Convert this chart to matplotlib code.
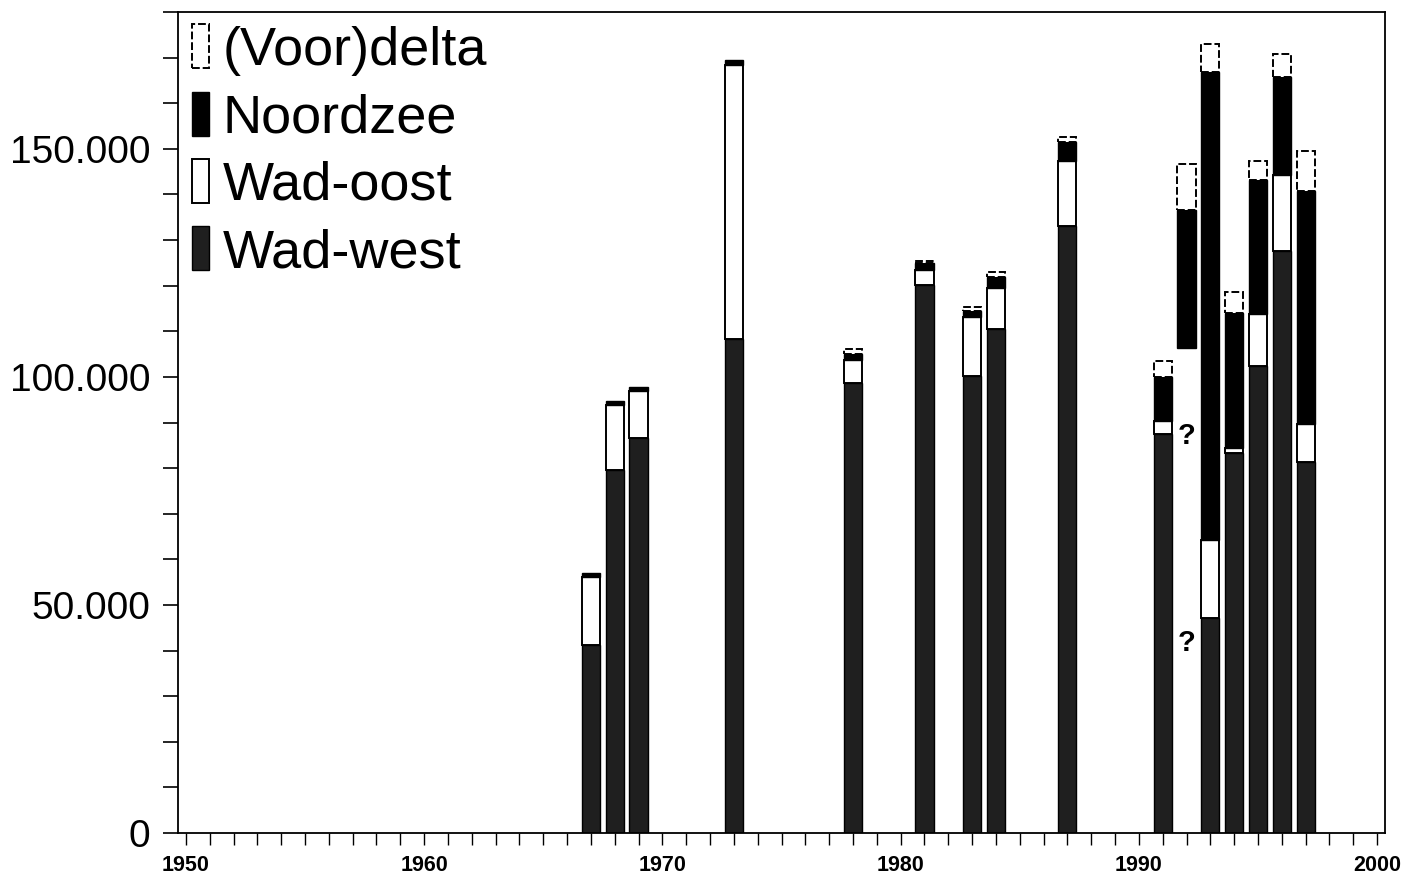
import numpy as np
import matplotlib
matplotlib.use("Agg")
import matplotlib.pyplot as plt
from matplotlib.ticker import MultipleLocator, FuncFormatter
from matplotlib.patches import Patch

plt.rcParams['font.family'] = ['Liberation Sans', 'DejaVu Sans']

# ---- data ----
years = [1967, 1968, 1969, 1973, 1978, 1981, 1983, 1984, 1987,
         1991, 1992, 1993, 1994, 1995, 1996, 1997]
# unknown (not measured) base, only for 1992
onbekend = [0, 0, 0, 0, 0, 0, 0, 0, 0, 0, 106300, 0, 0, 0, 0, 0]
wad_west = [41300, 79500, 86700, 108300, 98600, 120100, 100100, 110500, 133100,
            87400, np.nan, 47200, 83400, 102300, 127600, 81300]
wad_oost = [14900, 14300, 10100, 60000, 5050, 3300, 13000, 9000, 14300,
            2900, np.nan, 17100, 1100, 11400, 16700, 8300]
noordzee = [900, 900, 900, 1100, 1300, 1500, 1300, 2400, 4200,
            9700, 30300, 102600, 29600, 29400, 21500, 51200]
voordelta = [0, 0, 0, 0, 1100, 500, 900, 1100, 900,
             3500, 10100, 6100, 4600, 4200, 5100, 8800]
question_marks = [(1992, 87000), (1992, 41700)]

series_labels = ['Wad-west', 'Wad-oost', 'Noordzee', '(Voor)delta']
y_major_ticks = [0, 50000, 100000, 150000]

# ---- figure ----
fig = plt.figure(figsize=(14.14, 8.85), dpi=100)
ax = fig.add_axes([178 / 1414, 1 - 833 / 885, (1385 - 178) / 1414, (833 - 12) / 885])

x = np.array(years, dtype=float)
w = 0.76
bottom = np.array(onbekend, dtype=float)

styles = {
    'Wad-west': dict(facecolor='#1f1f1f', edgecolor='black', linewidth=1.0),
    'Wad-oost': dict(facecolor='white', edgecolor='black', linewidth=1.4),
    'Noordzee': dict(facecolor='black', edgecolor='black', linewidth=1.0),
    '(Voor)delta': dict(facecolor='white', edgecolor='black', linewidth=1.4,
                        linestyle=(0, (4, 1.5))),
}
data = {'Wad-west': wad_west, 'Wad-oost': wad_oost,
        'Noordzee': noordzee, '(Voor)delta': voordelta}

for name in series_labels:
    vals = np.array(data[name], dtype=float)
    mask = ~np.isnan(vals) & (vals > 0)
    ax.bar(x[mask], vals[mask], width=w, bottom=bottom[mask], **styles[name])
    bottom = bottom + np.nan_to_num(vals)

for (qx, qy) in question_marks:
    ax.text(qx, qy, '?', ha='center', va='center', fontsize=21, fontweight='bold')

ax.set_xlim(1949.67, 2000.33)
ax.set_ylim(0, 180000)

ax.xaxis.set_major_locator(MultipleLocator(10))
ax.xaxis.set_minor_locator(MultipleLocator(1))
ax.yaxis.set_major_locator(plt.FixedLocator(y_major_ticks))
ax.yaxis.set_minor_locator(MultipleLocator(10000))
ax.yaxis.set_major_formatter(FuncFormatter(lambda v, p: f"{int(v):,}".replace(',', '.')))

ax.tick_params(axis='y', which='both', direction='out', length=11, width=1.2,
               labelsize=28, pad=9)
ax.tick_params(axis='x', which='both', direction='out', length=8.5, width=1.0,
               pad=7)
for lab in ax.get_xticklabels():
    lab.set_fontsize(15.5)
    lab.set_fontweight('bold')

for s in ax.spines.values():
    s.set_linewidth(1.3)

handles = [Patch(**styles[n]) for n in reversed(series_labels)]
leg = ax.legend(handles, list(reversed(series_labels)), loc='upper left',
                bbox_to_anchor=(0.012, 0.985), frameon=False, fontsize=39,
                handlelength=0.3, handleheight=0.87, handletextpad=0.25,
                labelspacing=0.29, borderpad=0, borderaxespad=0)

fig.savefig('out.png', dpi=100)
